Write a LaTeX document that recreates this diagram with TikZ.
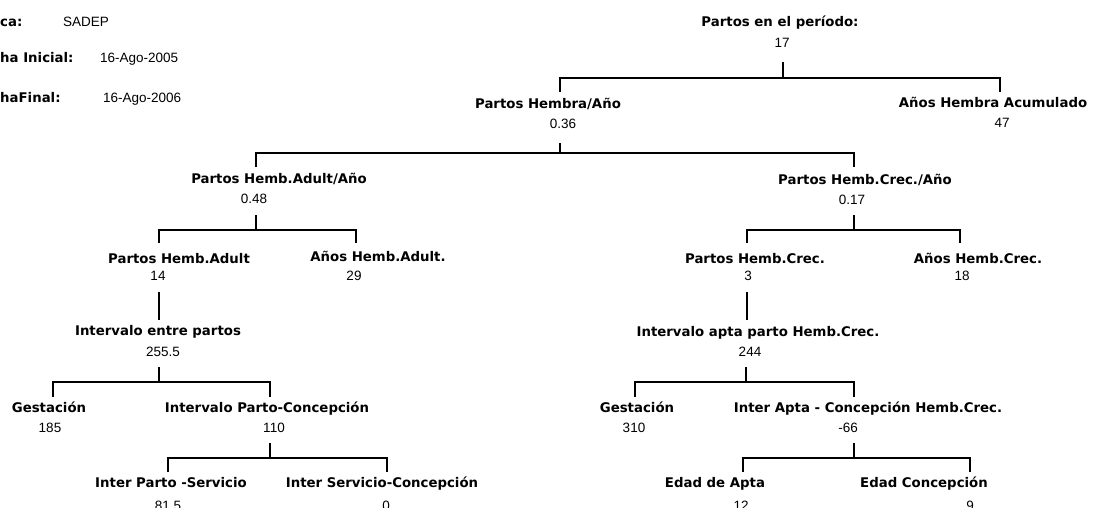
\documentclass[tikz,border=0pt]{standalone}
\usepackage{fontspec}
\newfontfamily\dvs{DejaVu Sans}
\newfontfamily\lib{Liberation Sans}
\tikzset{
  lbl/.style={anchor=base, inner sep=0pt, font=\dvs\bfseries\fontsize{13.3}{16}\selectfont},
  num/.style={anchor=base, inner sep=0pt, font=\lib\fontsize{13.5}{16}\selectfont},
  hlbl/.style={lbl, anchor=base west},
  hnum/.style={num, anchor=base west},
  conn/.style={line width=2.4pt, line join=miter, line cap=butt, draw=black}
}
\begin{document}
\begin{tikzpicture}[x=1pt, y=-1pt]
\fill[white] (0,0) rectangle (1099,507);
\useasboundingbox (0,0) rectangle (1099,507);

% header
\node[hlbl] (hfinca) at (0,26) {ca:};
\node[hnum] (vfinca) at (63,26) {SADEP};
\node[hlbl] (hini) at (0,62) {ha Inicial:};
\node[hnum] (vini) at (100,62) {16-Ago-2005};
\node[hlbl] (hfin) at (0,102) {haFinal:};
\node[hnum] (vfin) at (103,102) {16-Ago-2006};

% labels
\node[lbl] (l1) at (780,26) {Partos en el período:};
\node[num] (v1) at (782,47) {17};
\node[lbl] (l2) at (548,108) {Partos Hembra/Año};
\node[num] (v2) at (563,128) {0.36};
\node[lbl] (l3) at (993,107) {Años Hembra Acumulado};
\node[num] (v3) at (1002,127) {47};
\node[lbl] (l4) at (279,183) {Partos Hemb.Adult/Año};
\node[num] (v4) at (254,203) {0.48};
\node[lbl] (l5) at (865,184) {Partos Hemb.Crec./Año};
\node[num] (v5) at (852,204) {0.17};
\node[lbl] (l6) at (179,263) {Partos Hemb.Adult};
\node[num] (v6) at (158,280) {14};
\node[lbl] (l7) at (378,261) {Años Hemb.Adult.};
\node[num] (v7) at (354,280) {29};
\node[lbl] (l8) at (755,263) {Partos Hemb.Crec.};
\node[num] (v8) at (748,280) {3};
\node[lbl] (l9) at (978,263) {Años Hemb.Crec.};
\node[num] (v9) at (962,280) {18};
\node[lbl] (l10) at (158,335) {Intervalo entre partos};
\node[num] (v10) at (163,356) {255.5};
\node[lbl] (l11) at (758,336) {Intervalo apta parto Hemb.Crec.};
\node[num] (v11) at (750,356) {244};
\node[lbl] (l12) at (49,412) {Gestación};
\node[num] (v12) at (50,432) {185};
\node[lbl] (l13) at (267,412) {Intervalo Parto-Concepción};
\node[num] (v13) at (274,432) {110};
\node[lbl] (l14) at (637,412) {Gestación};
\node[num] (v14) at (634,432) {310};
\node[lbl] (l15) at (868,412) {Inter Apta - Concepción Hemb.Crec.};
\node[num] (v15) at (848,432) {-66};
\node[lbl] (l16) at (171,487) {Inter Parto -Servicio};
\node[num] (v16) at (168,510) {81.5};
\node[lbl] (l17) at (382,487) {Inter Servicio-Concepción};
\node[num] (v17) at (386,510) {0};
\node[lbl] (l18) at (715,487) {Edad de Apta};
\node[num] (v18) at (741,510) {12};
\node[lbl] (l19) at (924,487) {Edad Concepción};
\node[num] (v19) at (970,510) {9};

% junctions
\coordinate (j1) at (783,78);
\coordinate (j2) at (560,153);
\coordinate (j4) at (256,230);
\coordinate (j5) at (854,230);
\coordinate (j10) at (159,382);
\coordinate (j11) at (746,382);
\coordinate (j13) at (270,458);
\coordinate (j15) at (854,458);
% child tops
\coordinate (t2) at (560,92);
\coordinate (t3) at (1000,92);
\coordinate (t4) at (256,167);
\coordinate (t5) at (854,167);
\coordinate (t6) at (159,243);
\coordinate (t7) at (356,243);
\coordinate (t8) at (747,243);
\coordinate (t9) at (960,243);
\coordinate (t12) at (53,397);
\coordinate (t13) at (270,397);
\coordinate (t14) at (635,397);
\coordinate (t15) at (854,397);
\coordinate (t16) at (168,472);
\coordinate (t17) at (387,472);
\coordinate (t18) at (743,472);
\coordinate (t19) at (970,472);
% single links
\coordinate (s6) at (159,292);
\coordinate (s10) at (159,320);
\coordinate (s8) at (747,292);
\coordinate (s11) at (747,320);

\draw[conn] (j1) -- ++(0,-16);
\draw[conn] (t2) |- (j1) -| (t3);
\draw[conn] (j2) -- ++(0,-10);
\draw[conn] (t4) |- (j2) -| (t5);
\draw[conn] (j4) -- ++(0,-15);
\draw[conn] (t6) |- (j4) -| (t7);
\draw[conn] (j5) -- ++(0,-15);
\draw[conn] (t8) |- (j5) -| (t9);
\draw[conn] (s6) -- (s10);
\draw[conn] (s8) -- (s11);
\draw[conn] (j10) -- ++(0,-15);
\draw[conn] (t12) |- (j10) -| (t13);
\draw[conn] (j11) -- ++(0,-15);
\draw[conn] (t14) |- (j11) -| (t15);
\draw[conn] (j13) -- ++(0,-15);
\draw[conn] (t16) |- (j13) -| (t17);
\draw[conn] (j15) -- ++(0,-15);
\draw[conn] (t18) |- (j15) -| (t19);
\end{tikzpicture}
\end{document}
